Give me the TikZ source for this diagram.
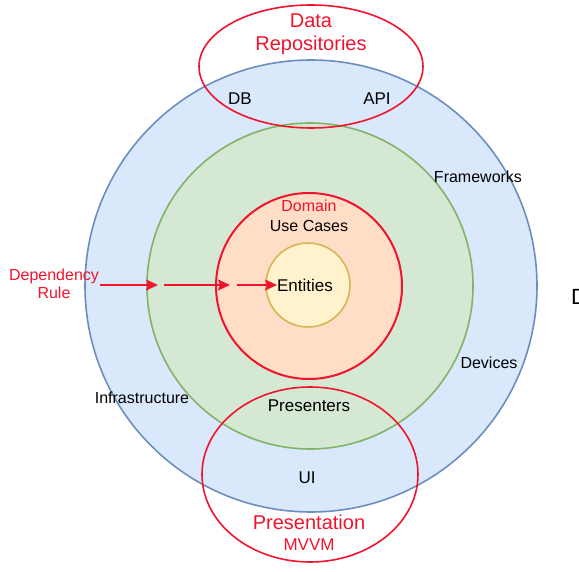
\documentclass[tikz,border=0pt]{standalone}
\usepackage{fontspec}
\setmainfont{Liberation Sans}
\usetikzlibrary{arrows.meta}
\definecolor{bluefill}{HTML}{DAE8FC}
\definecolor{bluestroke}{HTML}{6C8EBF}
\definecolor{greenfill}{HTML}{D5E8D4}
\definecolor{greenstroke}{HTML}{82B366}
\definecolor{peachfill}{HTML}{FFDDC6}
\definecolor{yellowfill}{HTML}{FFF2CC}
\definecolor{yellowstroke}{HTML}{D6B656}
\definecolor{myred}{RGB}{240,20,45}
\tikzset{
  ring/.style={circle, inner sep=0pt, line width=1.6pt},
  redoval/.style={ellipse, inner sep=0pt, draw=myred, line width=1.6pt},
  lbl/.style={font=\fontsize{16}{18}\selectfont, inner sep=0pt, text=black},
  lblbig/.style={font=\fontsize{17}{19}\selectfont, inner sep=0pt, text=black},
  redlbl/.style={font=\fontsize{16}{18.5}\selectfont, inner sep=0pt, text=myred, align=center},
  redbig/.style={font=\fontsize{20}{23}\selectfont, inner sep=0pt, text=myred, align=center},
  deparrow/.style={draw=myred, line width=1.6pt, -{Stealth[length=12pt,width=11pt,inset=2pt]}}
}
\usetikzlibrary{shapes.geometric}
\begin{document}
\begin{tikzpicture}[x=1pt,y=-1pt]
\useasboundingbox (0,0) rectangle (579,572);
\clip (0,0) rectangle (579,572);
% rings
\node[ring, draw=bluestroke, fill=bluefill, minimum size=452pt] (outer) at (311,286) {};
\node[ring, draw=greenstroke, fill=greenfill, minimum size=326pt] (green) at (310,286) {};
\node[ring, draw=myred, fill=peachfill, minimum size=186pt, line width=2pt] (domain) at (309,286) {};
\node[ring, draw=yellowstroke, fill=yellowfill, minimum size=84pt] (entities) at (308,285) {};
% red ovals
\node[redoval, minimum width=224pt, minimum height=123pt] (repo) at (311,66.5) {};
\node[redoval, minimum width=216pt, minimum height=175pt] (pres) at (310,474.5) {};
% labels
\node[redbig] (repotxt) at (311,34) {Data\\Repositories};
\node[lblbig] (db) at (240,99) {DB};
\node[lblbig] (api) at (377,99) {API};
\node[lbl] (fw) at (478,177) {Frameworks};
\node[redlbl] (domtxt) at (309,206) {Domain};
\node[lbl] (uc) at (309,226) {Use Cases};
\node[lblbig] (enttxt) at (305,285) {Entities};
\node[redlbl] (dep) at (54,284) {Dependency\\Rule};
\node[lbl] (dev) at (489,363) {Devices};
\node[lbl] (infra) at (142,398) {Infrastructure};
\node[lblbig] (prestxt) at (309,406) {Presenters};
\node[lblbig] (ui) at (307,478) {UI};
\node[redbig] (prestitle) at (309,522) {Presentation};
\node[font=\fontsize{17}{19}\selectfont, inner sep=0pt, text=myred] (mvvm) at (309,545) {MVVM};
\node[font=\fontsize{22}{24}\selectfont, inner sep=0pt, anchor=west] (cutd) at (571,297) {D};
% dependency arrows
\coordinate (a1s) at (100,285);
\coordinate (a1e) at (158,285);
\coordinate (a2s) at (164,285);
\coordinate (a2e) at (230,285);
\coordinate (a3s) at (237,285);
\coordinate (a3e) at (277,285);
\draw[deparrow] (a1s) -- (a1e);
\draw[deparrow] (a2s) -- (a2e);
\draw[deparrow] (a3s) -- (a3e);
\end{tikzpicture}
\end{document}
